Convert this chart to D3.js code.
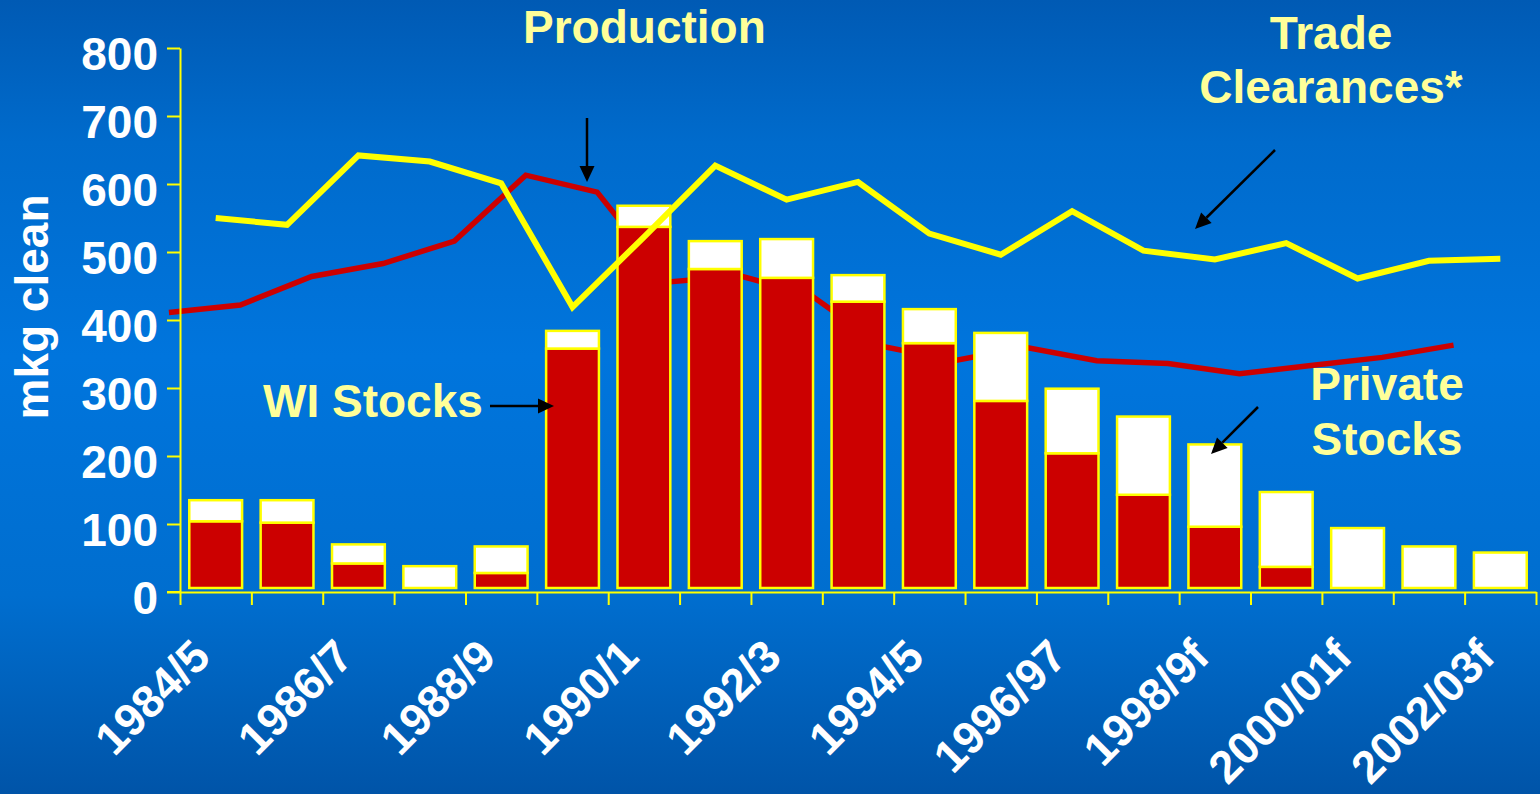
<!DOCTYPE html>
<html>
<head>
<meta charset="utf-8">
<script src="https://cdn.jsdelivr.net/npm/d3@7"></script>
<style>
  html, body { margin: 0; padding: 0; overflow: hidden; }
  body { width: 1540px; height: 794px; }
  svg { display: block; font-family: "Liberation Sans", Arial, sans-serif; font-weight: bold; }
</style>
</head>
<body>
<script>
// ---------------- DATA ----------------
const categories = ["1984/5","1985/6","1986/7","1987/8","1988/9","1989/90","1990/1","1991/2","1992/3","1993/4",
                    "1994/5","1995/6","1996/97","1997/98","1998/9f","1999/00f","2000/01f","2001/02f","2002/03f"];
const tickLabels = ["1984/5","1986/7","1988/9","1990/1","1992/3","1994/5","1996/97","1998/9f","2000/01f","2002/03f"];
const yTicks = [0,100,200,300,400,500,600,700,800];
const wiStocks      = [104,102,42,0,28,358,537,475,462,427,366,281,204,143,96,37,0,0,0];
const privateStocks = [31,33,28,38,39,26,31,41,57,39,50,100,95,115,121,110,94,67,58];
const tradeClearances = [550,540,642,633,601,419,522,627,577,603,527,496,560,502,489,513,461,487,490];
const production      = [411,422,464,483,516,613,588,456,465,436,361,340,360,340,336,321,333,345,363];

// ---------------- LAYOUT ----------------
const W = 1540, H = 794;
const plot = { left: 180, right: 1536, top: 48, bottom: 592 };
const svg = d3.select("body").append("svg").attr("width", W).attr("height", H);

const defs = svg.append("defs");
const grad = defs.append("linearGradient").attr("id", "bg").attr("x1", 0).attr("y1", 0).attr("x2", 0).attr("y2", 1);
[[0, "#005AB4"], [0.18, "#006BCC"], [0.45, "#0075DD"], [0.75, "#006ECF"], [1, "#0054A8"]]
  .forEach(([o, c]) => grad.append("stop").attr("offset", o).attr("stop-color", c));
svg.append("rect").attr("width", W).attr("height", H).attr("fill", "url(#bg)");

const x = d3.scaleBand().domain(categories).range([plot.left, plot.right]).paddingInner(0.26).paddingOuter(0.13);
const step = x.step();
const y = d3.scaleLinear().domain([0, 800]).range([plot.bottom, plot.top]);
const cx = c => x(c) + x.bandwidth() / 2;
const prodShift = -0.655 * step;   // production line is offset in the original slide
const barBase = y(0) - 4;

const YEL = "#FFFF00", RED = "#CC0000", NOTE = "#FFFF99";

// ---------------- PRODUCTION LINE (behind bars) ----------------
svg.append("path")
  .datum(production)
  .attr("fill", "none").attr("stroke", RED).attr("stroke-width", 5.5).attr("stroke-linejoin", "miter")
  .attr("d", d3.line().x((d, i) => cx(categories[i]) + prodShift).y(d => y(d)));

// ---------------- BARS ----------------
const bars = svg.append("g");
categories.forEach((c, i) => {
  const wi = wiStocks[i], pv = privateStocks[i];
  const tot = wi + pv;
  if (wi > 0) {
    bars.append("rect")
      .attr("x", x(c)).attr("width", x.bandwidth())
      .attr("y", y(wi)).attr("height", barBase - y(wi))
      .attr("fill", RED).attr("stroke", YEL).attr("stroke-width", 2.5);
  }
  const bottom = wi > 0 ? y(wi) : barBase;
  bars.append("rect")
    .attr("x", x(c)).attr("width", x.bandwidth())
    .attr("y", y(tot)).attr("height", bottom - y(tot))
    .attr("fill", "#FFFFFF").attr("stroke", YEL).attr("stroke-width", 2.5);
});

// ---------------- TRADE CLEARANCES LINE ----------------
svg.append("path")
  .datum(tradeClearances)
  .attr("fill", "none").attr("stroke", YEL).attr("stroke-width", 6).attr("stroke-linejoin", "miter")
  .attr("d", d3.line().x((d, i) => cx(categories[i])).y(d => y(d)));

// ---------------- AXES ----------------
const yAxis = svg.append("g").attr("transform", `translate(${plot.left},0)`)
  .call(d3.axisLeft(y).tickValues(yTicks).tickSize(13).tickSizeOuter(0).tickFormat(""));
yAxis.selectAll("path,line").attr("stroke", YEL).attr("stroke-width", 2);

const xb = d3.scaleLinear().domain([0, categories.length]).range([plot.left, plot.right]);
const xAxis = svg.append("g").attr("transform", `translate(0,${plot.bottom})`)
  .call(d3.axisBottom(xb).tickValues(d3.range(0, categories.length + 1)).tickSize(13).tickSizeOuter(0).tickFormat(""));
xAxis.selectAll("path,line").attr("stroke", YEL).attr("stroke-width", 2);
svg.append("line").attr("x1", plot.left - 13).attr("x2", plot.left).attr("y1", y(0)).attr("y2", y(0))
  .attr("stroke", YEL).attr("stroke-width", 2);

// y tick labels
svg.append("g").selectAll("text").data(yTicks).join("text")
  .attr("x", 158).attr("y", d => y(d) + 22)
  .attr("text-anchor", "end").attr("fill", "#FFFFFF").attr("font-size", 46)
  .text(d => d);

// x tick labels
svg.append("g").selectAll("text").data(tickLabels).join("text")
  .attr("transform", d => `translate(${cx(d) - 3},659) rotate(-45)`)
  .attr("text-anchor", "end").attr("fill", "#FFFFFF").attr("font-size", 45.5)
  .text(d => d);

// y title
svg.append("text")
  .attr("transform", "translate(48,307) rotate(-90)")
  .attr("text-anchor", "middle").attr("fill", "#FFFFFF").attr("font-size", 46)
  .text("mkg clean");

// ---------------- ANNOTATIONS ----------------
const notes = [
  { t: "Production", x: 523, y: 43, a: "start" },
  { t: "Trade", x: 1331, y: 49, a: "middle" },
  { t: "Clearances*", x: 1331, y: 103, a: "middle" },
  { t: "WI Stocks", x: 263, y: 417, a: "start" },
  { t: "Private", x: 1387, y: 400, a: "middle" },
  { t: "Stocks", x: 1387, y: 455, a: "middle" }
];
svg.append("g").selectAll("text").data(notes).join("text")
  .attr("x", d => d.x).attr("y", d => d.y).attr("text-anchor", d => d.a)
  .attr("fill", NOTE).attr("font-size", 46).text(d => d.t);

function arrow(x1, y1, x2, y2) {
  const dx = x2 - x1, dy = y2 - y1, L = Math.hypot(dx, dy);
  const ux = dx / L, uy = dy / L, hl = 16, hw = 7.5;
  const bx = x2 - ux * hl, by = y2 - uy * hl;
  const g = svg.append("g");
  g.append("line").attr("x1", x1).attr("y1", y1).attr("x2", bx).attr("y2", by)
    .attr("stroke", "#000").attr("stroke-width", 2.5);
  g.append("path")
    .attr("d", `M${x2},${y2}L${bx - uy * hw},${by + ux * hw}L${bx + uy * hw},${by - ux * hw}Z`)
    .attr("fill", "#000");
}
arrow(587, 118, 587, 182);
arrow(1275, 150, 1195, 229);
arrow(490, 406, 554, 406);
arrow(1258, 407, 1211, 454);
</script>
</body>
</html>
